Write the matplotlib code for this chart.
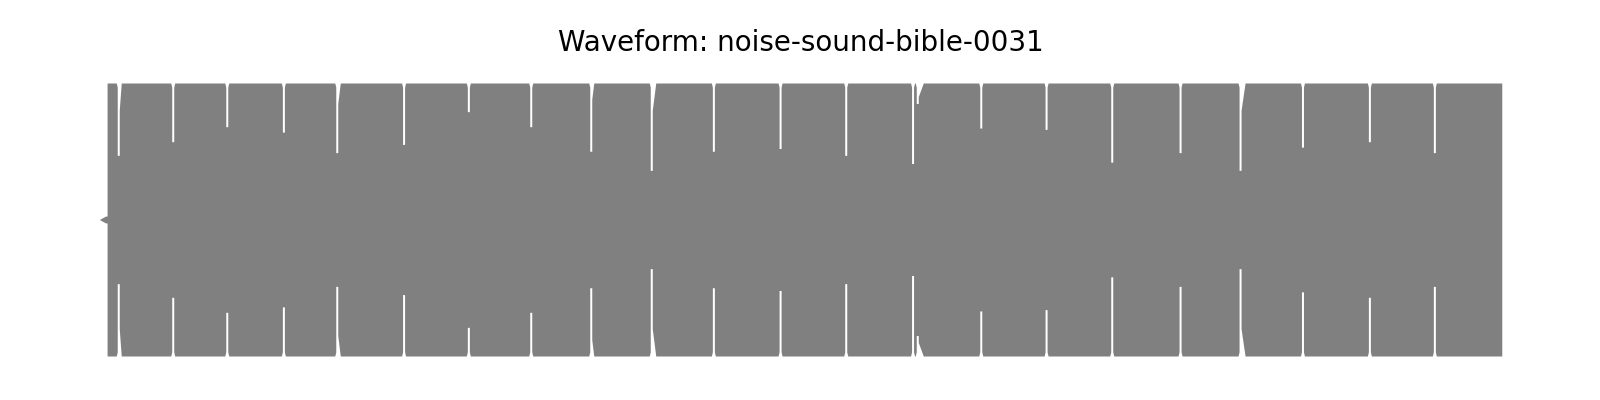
import numpy as np
import matplotlib.pyplot as plt

# ------------------------------
# data
# ------------------------------
title = "Waveform: noise-sound-bible-0031"
duration = 28.0            # seconds
lead_in_end = 0.154        # quiet click before the noise starts
lead_in_amp = 0.025

# short dropouts between the noise bursts (seconds)
gap_times = [0.377, 1.465, 2.544, 3.674, 4.740, 6.074, 7.367, 8.613, 9.811,
             11.019, 12.259, 13.591, 14.902, 16.236, 16.330, 17.598, 18.902,
             20.213, 21.577, 22.775, 24.021, 25.357, 26.654]
# envelope amplitude reached inside each dropout
gap_depths = [0.47, 0.57, 0.68, 0.64, 0.49, 0.55, 0.79, 0.68, 0.50,
              0.36, 0.50, 0.52, 0.47, 0.41, 0.85, 0.67, 0.66,
              0.42, 0.49, 0.36, 0.53, 0.57, 0.49]
# amplitude at which the next burst resumes, and how long it takes to reach full level
ramp_start = [0.80, 0.97, 0.97, 0.97, 0.85, 0.97, 0.97, 0.97, 0.88,
              0.80, 0.97, 0.97, 0.97, 0.97, 0.90, 0.97, 0.97,
              0.97, 0.97, 0.80, 0.97, 0.97, 0.97]
ramp_len = [0.04, 0.02, 0.02, 0.02, 0.05, 0.02, 0.02, 0.02, 0.04,
            0.07, 0.02, 0.02, 0.02, 0.02, 0.10, 0.02, 0.02,
            0.02, 0.02, 0.08, 0.02, 0.02, 0.02]

# ------------------------------
# envelope
# ------------------------------
hw = 0.02  # half width of a dropout
env_t = [0.0, lead_in_end * 0.8, lead_in_end, lead_in_end]
env_a = [0.0, lead_in_amp, lead_in_amp, 1.0]
for g, d, rs, rl in zip(gap_times, gap_depths, ramp_start, ramp_len):
    env_t += [g - hw - 0.02, g - hw, g - hw, g + hw, g + hw, g + hw + rl]
    env_a += [1.0, 0.97, d, d, rs, 1.0]
env_t += [duration, duration]
env_a += [1.0, 0.0]

env_t = np.array(env_t)
env_a = np.array(env_a)

# ------------------------------
# plot
# ------------------------------
fig = plt.figure(figsize=(16, 4), dpi=100)
ax = fig.add_axes([0.0621, 0.11, 0.8765, 0.6825])

ax.fill_between(env_t, env_a, -env_a, color="gray", linewidth=0)

ax.set_xlim(0, duration)
ax.set_ylim(-1, 1)
ax.axis("off")
ax.set_title(title, fontsize=20, pad=23)

plt.savefig("out.png", dpi=100)
